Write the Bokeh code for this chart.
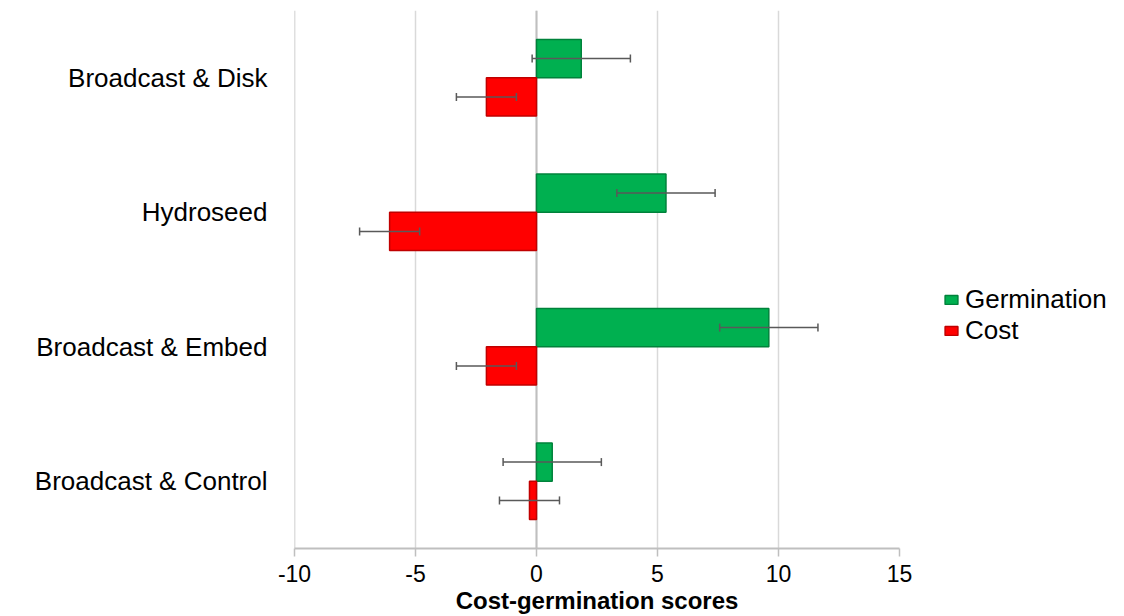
from bokeh.plotting import figure
from bokeh.models import (ColumnDataSource, FactorRange, Range1d, FixedTicker, Whisker,
                          TeeHead, Span, Legend, LegendItem, Title)
from bokeh.transform import dodge
from bokeh.embed import file_html
from bokeh.resources import INLINE

# ---- data ----
categories = ["Broadcast & Disk", "Hydroseed", "Broadcast & Embed", "Broadcast & Control"]
germination = [1.85, 5.35, 9.6, 0.65]
germination_err = [2.03, 2.03, 2.03, 2.03]
cost = [-2.07, -6.07, -2.07, -0.29]
cost_err = [1.24, 1.24, 1.24, 1.24]
x_ticks = [-10, -5, 0, 5, 10, 15]
x_tick_labels = {-10: "-10", -5: "-5", 0: "0", 5: "5", 10: "10", 15: "15"}

src = ColumnDataSource(dict(
    cat=categories,
    germ=germination,
    germ_lo=[v - e for v, e in zip(germination, germination_err)],
    germ_hi=[v + e for v, e in zip(germination, germination_err)],
    cost=cost,
    cost_lo=[v - e for v, e in zip(cost, cost_err)],
    cost_hi=[v + e for v, e in zip(cost, cost_err)],
))

FONT = "Liberation Sans"

p = figure(y_range=FactorRange(factors=categories[::-1]), x_range=Range1d(-10, 15),
           frame_width=605, frame_height=538,
           min_border_left=294, min_border_right=225, min_border_top=10, min_border_bottom=68,
           output_backend="svg", toolbar_location=None, outline_line_color=None)

p.xgrid.grid_line_color = "#D9D9D9"
p.xgrid.grid_line_width = 1.5
p.ygrid.grid_line_color = None

p.xaxis.ticker = FixedTicker(ticks=x_ticks)
p.xaxis.major_label_overrides = x_tick_labels
p.xaxis.axis_line_color = "#BFBFBF"
p.xaxis.axis_line_width = 2
p.xaxis.major_tick_line_color = "#BFBFBF"
p.xaxis.major_tick_line_width = 1.5
p.xaxis.major_tick_out = 8
p.xaxis.major_tick_in = 0
p.xaxis.minor_tick_line_color = None
p.xaxis.major_label_text_font = FONT
p.xaxis.major_label_text_font_size = "23px"
p.xaxis.major_label_text_color = "#000000"
p.xaxis.major_label_standoff = 8

p.yaxis.axis_line_color = None
p.yaxis.major_tick_line_color = None
p.yaxis.minor_tick_line_color = None
p.yaxis.major_label_text_font = FONT
p.yaxis.major_label_text_font_size = "26px"
p.yaxis.major_label_text_color = "#000000"
p.yaxis.major_label_standoff = 21

p.add_layout(Span(location=0, dimension="height", line_color="#BFBFBF", line_width=2, level="underlay"))
p.add_layout(Span(location=x_ticks[0], dimension="height", line_color="#BFBFBF", line_width=1.5, level="underlay"))

off = 0.1425
g = p.hbar(y=dodge("cat", off, range=p.y_range), left=0, right="germ", height=0.285, source=src,
           fill_color="#00B050", line_color="#00823B", line_width=1.5)
c = p.hbar(y=dodge("cat", -off, range=p.y_range), left=0, right="cost", height=0.285, source=src,
           fill_color="#FF0000", line_color="#C00000", line_width=1.5)

for base, lo, hi in [(dodge("cat", off, range=p.y_range), "germ_lo", "germ_hi"),
                     (dodge("cat", -off, range=p.y_range), "cost_lo", "cost_hi")]:
    w = Whisker(base=base, lower=lo, upper=hi, dimension="width", source=src,
                line_color="#595959", line_width=1.5, level="overlay",
                lower_head=TeeHead(size=8, line_color="#595959", line_width=1.5),
                upper_head=TeeHead(size=8, line_color="#595959", line_width=1.5))
    p.add_layout(w)

legend = Legend(items=[LegendItem(label="Germination", renderers=[g]),
                       LegendItem(label="Cost", renderers=[c])],
                location=(44, 202), orientation="vertical",
                glyph_width=16, glyph_height=11, label_standoff=6, spacing=0,
                padding=0, margin=0, border_line_color=None, background_fill_alpha=0,
                label_text_font=FONT, label_text_font_size="26px", label_text_color="#000000")
p.add_layout(legend, "right")

p.add_layout(Title(text="Cost-germination scores", align="center", standoff=0,
                   text_font=FONT, text_font_size="24px", text_font_style="bold",
                   text_color="#000000"), "below")

open("out.html", "w").write(file_html(p, INLINE))
